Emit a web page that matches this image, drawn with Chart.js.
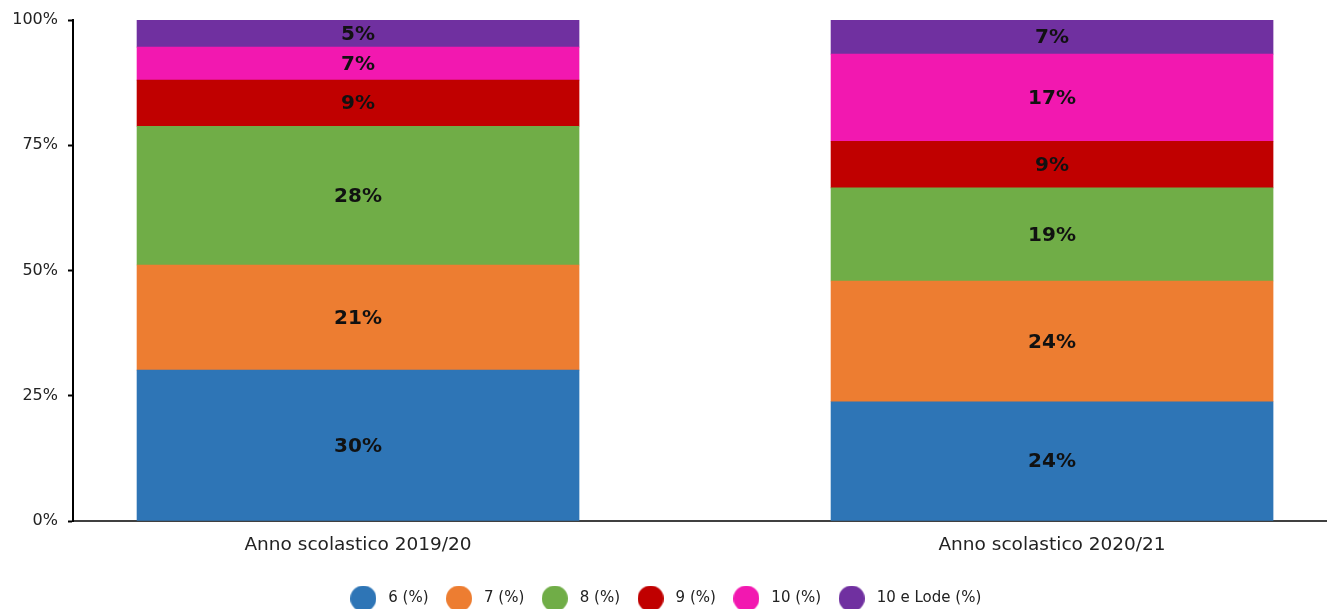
<!DOCTYPE html>
<html>
<head>
<meta charset="utf-8">
<script src="https://cdn.jsdelivr.net/npm/chart.js@4/dist/chart.umd.min.js"></script>
<style>
  body { margin: 0; background: #fff; overflow: hidden; }
  #wrap { width: 1327px; height: 616px; position: relative; }
</style>
</head>
<body>
<div id="wrap"><canvas id="myChart"></canvas></div>
<script>
/* Distribuzione dei voti per anno scolastico - barre impilate al 100% */

const categories = ['Anno scolastico 2019/20', 'Anno scolastico 2020/21'];
const seriesNames = ['6 (%)', '7 (%)', '8 (%)', '9 (%)', '10 (%)', '10 e Lode (%)'];
const voto6 = [30.1, 23.8];
const voto7 = [21.0, 24.1];
const voto8 = [27.7, 18.6];
const voto9 = [9.2, 9.3];
const voto10 = [6.6, 17.4];
const voto10Lode = [5.4, 6.8];
const yTicks = [0, 25, 50, 75, 100];

const colors = ['#2E75B6', '#ED7D31', '#70AD47', '#C00000', '#F218B0', '#7030A0'];
const seriesValues = [voto6, voto7, voto8, voto9, voto10, voto10Lode];
const fontFamily = 'DejaVu Sans, Verdana, sans-serif';

// cerchi della legenda (piu' grandi del font)
function makeDot(color) {
    const c = document.createElement('canvas');
    c.width = 26;
    c.height = 26;
    const g = c.getContext('2d');
    g.fillStyle = color;
    g.beginPath();
    g.arc(13, 13, 13, 0, Math.PI * 2);
    g.fill();
    return c;
}
const dots = colors.map(makeDot);

// etichette al centro di ogni segmento
const barLabels = {
    id: 'barLabels',
    afterDatasetsDraw(chart) {
        const { ctx, chartArea } = chart;
        ctx.save();
        ctx.beginPath();
        ctx.rect(chartArea.left, chartArea.top, chartArea.width, chartArea.height);
        ctx.clip();
        ctx.font = 'bold 20px ' + fontFamily;
        ctx.fillStyle = '#111';
        ctx.textAlign = 'center';
        ctx.textBaseline = 'middle';
        chart.data.datasets.forEach((ds, i) => {
            chart.getDatasetMeta(i).data.forEach((bar, j) => {
                const v = ds.data[j].y;
                ctx.fillText(Math.round(v) + '%', bar.x, (bar.y + bar.base) / 2 + 1);
            });
        });
        ctx.restore();
    }
};

function initChart(target) {
    const datasets = seriesNames.map((name, i) => {
        return {
            label: name,
            data: seriesValues[i].map((v, j) => ({ x: j, y: v })),
            backgroundColor: colors[i],
            borderWidth: 0,
            barThickness: 442
        };
    });

    return new Chart(target, {
        type: 'bar',
        data: { datasets: datasets },
        options: {
            responsive: true,
            maintainAspectRatio: false,
            animation: false,
            layout: { padding: { top: 20, left: 0, right: 0, bottom: 0 } },
            plugins: {
                tooltip: { enabled: false },
                legend: {
                    position: 'bottom',
                    labels: {
                        usePointStyle: true,
                        pointStyleWidth: 35,
                        padding: 13,
                        color: '#222',
                        font: { family: fontFamily, size: 15 },
                        generateLabels: (chart) => {
                            const items = Chart.defaults.plugins.legend.labels.generateLabels(chart);
                            items.forEach((item) => { item.pointStyle = dots[item.datasetIndex]; });
                            return items;
                        }
                    }
                }
            },
            scales: {
                x: {
                    type: 'linear',
                    stacked: true,
                    offset: false,
                    min: -0.4107,
                    max: 1.3962,
                    afterBuildTicks: (s) => { s.ticks = categories.map((c, i) => ({ value: i })); },
                    afterFit: (s) => { s.height = 57; },
                    ticks: {
                        callback: (v) => categories[v],
                        autoSkip: false,
                        maxRotation: 0,
                        padding: 13,
                        color: '#222',
                        font: { family: fontFamily, size: 18.5 }
                    },
                    grid: { display: false, drawTicks: false },
                    border: { color: '#404040', width: 2 }
                },
                y: {
                    stacked: true,
                    min: 0,
                    max: 100,
                    afterBuildTicks: (s) => { s.ticks = yTicks.map((v) => ({ value: v })); },
                    afterFit: (s) => { s.width = 73; },
                    ticks: {
                        callback: (v) => v + '%',
                        padding: 10,
                        color: '#222',
                        font: { family: fontFamily, size: 16 }
                    },
                    grid: {
                        drawOnChartArea: false,
                        drawTicks: true,
                        tickLength: 5,
                        tickColor: '#000',
                        tickWidth: 2
                    },
                    border: { color: '#000', width: 2 }
                }
            }
        },
        plugins: [barLabels]
    });
}

document.addEventListener('DOMContentLoaded', () => {
    initChart(document.querySelector('#myChart'));
});
</script>
</body>
</html>
